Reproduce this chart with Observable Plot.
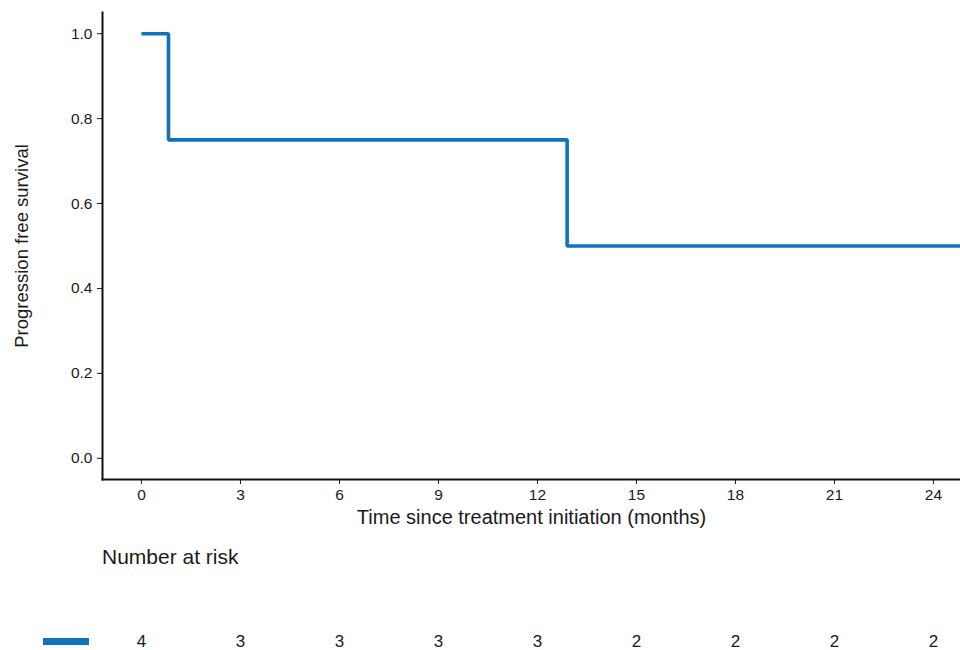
<!DOCTYPE html>
<html>
<head>
<meta charset="utf-8">
<script src="https://cdn.jsdelivr.net/npm/d3@7"></script>
<script src="https://cdn.jsdelivr.net/npm/@observablehq/plot@0.6"></script>
<style>
  html, body { margin: 0; padding: 0; background: #fff; }
  #wrap { position: relative; width: 960px; height: 650px; font-family: "Liberation Sans", Arial, sans-serif; }
  #risk-title { position: absolute; left: 102px; top: 545px; font-size: 21px; line-height: 24px; color: #1a1a1a; }
  #legend-bar { position: absolute; left: 43px; top: 638px; width: 46px; height: 6.5px; background: #0F72BA; }
  #risk { position: absolute; left: 0; top: 600px; }
</style>
</head>
<body>
<div id="wrap">
  <div id="main"></div>
  <div id="risk-title">Number at risk</div>
  <div id="legend-bar"></div>
  <div id="risk"></div>
</div>
<script>
const times = [0, 0.82, 12.9, 25];
const survival = [1, 0.75, 0.5, 0.5];
const xTicks = [0, 3, 6, 9, 12, 15, 18, 21, 24];
const yTicks = [0, 0.2, 0.4, 0.6, 0.8, 1.0];
const atRisk = [4, 3, 3, 3, 3, 2, 2, 2, 2];
const color = "#0F72BA";

const curve = times.map((t, i) => ({t, s: survival[i]}));
const riskRows = xTicks.map((t, i) => ({t, n: atRisk[i]}));
const xDomain = [-1.18, 24.82];

function setFont(svg, selector, size) {
  svg.querySelectorAll(selector).forEach(t => { t.style.fontSize = size; t.style.fill = "#1a1a1a"; });
}

const main = Plot.plot({
  width: 960,
  height: 530,
  marginTop: 12,
  marginBottom: 51,
  marginLeft: 102,
  marginRight: 0,
  style: {fontFamily: "Liberation Sans, Arial, sans-serif", color: "#1a1a1a"},
  x: {domain: xDomain},
  y: {domain: [-0.05, 1.05]},
  marks: [
    Plot.axisX({ticks: xTicks, tickFormat: d => String(d), tickSize: 5, tickPadding: 4,
      label: "Time since treatment initiation (months)", labelAnchor: "center", labelOffset: 44, labelArrow: "none"}),
    Plot.axisY({ticks: yTicks, tickFormat: d3.format(".1f"), tickSize: 5, tickPadding: 5,
      label: "Progression free survival", labelAnchor: "center", labelOffset: 88, labelArrow: "none"}),
    Plot.frame({anchor: "left", stroke: "#111", strokeWidth: 2}),
    Plot.frame({anchor: "bottom", stroke: "#111", strokeWidth: 2}),
    Plot.line(curve, {x: "t", y: "s", curve: "step-after", stroke: color, strokeWidth: 3.6, clip: true, strokeLinejoin: "miter", strokeLinecap: "butt"})
  ]
});
setFont(main, "g[aria-label='x-axis tick label'] text", "15.5px");
setFont(main, "g[aria-label='y-axis tick label'] text", "15.5px");
setFont(main, "g[aria-label='x-axis label'] text", "20px");
setFont(main, "g[aria-label='y-axis label'] text", "18.5px");
document.getElementById("main").appendChild(main);

const risk = Plot.plot({
  width: 960,
  height: 50,
  marginTop: 0,
  marginBottom: 0,
  marginLeft: 102,
  marginRight: 0,
  style: {fontFamily: "Liberation Sans, Arial, sans-serif", color: "#1a1a1a"},
  x: {domain: xDomain, axis: null},
  y: {axis: null},
  marks: [
    Plot.text(riskRows, {x: "t", text: d => String(d.n), frameAnchor: "middle", dy: 16, fill: "#1a1a1a"})
  ]
});
setFont(risk, "text", "17px");
document.getElementById("risk").appendChild(risk);
</script>
</body>
</html>
